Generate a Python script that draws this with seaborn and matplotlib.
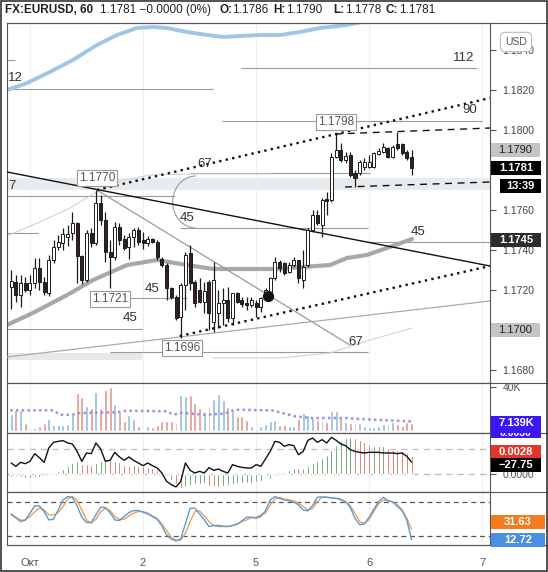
import numpy as np
import pandas as pd
import matplotlib
matplotlib.use("Agg")
import matplotlib.pyplot as plt
import seaborn as sns
from matplotlib.patches import Rectangle, Arc
from matplotlib.lines import Line2D
from matplotlib.transforms import Bbox, TransformedBbox

# hourly bars, bar 0 = 1 Oct 00:00
bars = list(range(-4, 82))
opens = [1.17215, 1.17240, 1.17175, 1.17235, 1.17200, 1.17235, 1.17310, 1.17240, 1.17185, 1.17350,
         1.17415, 1.17435, 1.17465, 1.17485, 1.17535, 1.17370, 1.17250, 1.17485, 1.17435, 1.17635,
         1.17550, 1.17390, 1.17365, 1.17515, 1.17455, 1.17415, 1.17465, 1.17500, 1.17450, 1.17435,
         1.17455, 1.17440, 1.17355, 1.17325, 1.17210, 1.17165, 1.17065, 1.17225, 1.17385, 1.17240,
         1.17200, 1.17140, 1.17240, 1.17040, 1.17085, 1.17135, 1.17150, 1.17060, 1.17185, 1.17150,
         1.17135, 1.17125, 1.17135, 1.17115, 1.17160, 1.17190, 1.17260, 1.17340, 1.17335, 1.17290,
         1.17325, 1.17350, 1.17250, 1.17325, 1.17500, 1.17575, 1.17525, 1.17655, 1.17650, 1.17865,
         1.17900, 1.17850, 1.17875, 1.17785, 1.17785, 1.17815, 1.17815, 1.17815, 1.17880, 1.17890,
         1.17910, 1.17865, 1.17930, 1.17930, 1.17890, 1.17865]
highs = [1.17300, 1.17275, 1.17275, 1.17265, 1.17275, 1.17360, 1.17360, 1.17265, 1.17375, 1.17450,
         1.17475, 1.17510, 1.17525, 1.17590, 1.17540, 1.17375, 1.17500, 1.17510, 1.17700, 1.17675,
         1.17590, 1.17450, 1.17540, 1.17535, 1.17475, 1.17485, 1.17510, 1.17515, 1.17490, 1.17470,
         1.17460, 1.17450, 1.17365, 1.17335, 1.17215, 1.17175, 1.17235, 1.17390, 1.17425, 1.17250,
         1.17260, 1.17240, 1.17250, 1.17340, 1.17200, 1.17210, 1.17215, 1.17185, 1.17190, 1.17165,
         1.17165, 1.17165, 1.17150, 1.17165, 1.17210, 1.17265, 1.17365, 1.17350, 1.17340, 1.17340,
         1.17365, 1.17350, 1.17400, 1.17510, 1.17600, 1.17600, 1.17660, 1.17690, 1.17885, 1.17980,
         1.17935, 1.17890, 1.17890, 1.17800, 1.17850, 1.17860, 1.17875, 1.17890, 1.17910, 1.17935,
         1.17915, 1.17925, 1.17990, 1.17935, 1.17900, 1.17900]
lows = [1.17105, 1.17140, 1.17115, 1.17190, 1.17175, 1.17210, 1.17200, 1.17175, 1.17170, 1.17335,
        1.17400, 1.17400, 1.17420, 1.17450, 1.17235, 1.17230, 1.17240, 1.17415, 1.17425, 1.17525,
        1.17340, 1.17210, 1.17350, 1.17425, 1.17400, 1.17355, 1.17415, 1.17425, 1.17405, 1.17420,
        1.17435, 1.17350, 1.17315, 1.17150, 1.17155, 1.17050, 1.16960, 1.17100, 1.17200, 1.17115,
        1.17135, 1.17085, 1.17000, 1.16990, 1.17010, 1.17025, 1.17040, 1.17025, 1.17135, 1.17115,
        1.17100, 1.17115, 1.17065, 1.17090, 1.17150, 1.17175, 1.17250, 1.17290, 1.17275, 1.17285,
        1.17315, 1.17235, 1.17210, 1.17315, 1.17490, 1.17525, 1.17465, 1.17575, 1.17640, 1.17860,
        1.17840, 1.17835, 1.17765, 1.17715, 1.17775, 1.17800, 1.17810, 1.17810, 1.17875, 1.17885,
        1.17860, 1.17860, 1.17900, 1.17875, 1.17850, 1.17775]
closes = [1.17245, 1.17175, 1.17235, 1.17200, 1.17235, 1.17310, 1.17240, 1.17190, 1.17350, 1.17415,
          1.17440, 1.17480, 1.17480, 1.17535, 1.17370, 1.17250, 1.17485, 1.17435, 1.17635, 1.17550,
          1.17390, 1.17365, 1.17515, 1.17450, 1.17410, 1.17465, 1.17500, 1.17440, 1.17435, 1.17455,
          1.17440, 1.17365, 1.17325, 1.17210, 1.17165, 1.17060, 1.17225, 1.17375, 1.17235, 1.17135,
          1.17140, 1.17195, 1.17085, 1.17250, 1.17135, 1.17150, 1.17060, 1.17185, 1.17140, 1.17130,
          1.17125, 1.17150, 1.17115, 1.17160, 1.17200, 1.17260, 1.17340, 1.17310, 1.17285, 1.17325,
          1.17350, 1.17260, 1.17315, 1.17500, 1.17575, 1.17535, 1.17650, 1.17645, 1.17865, 1.17900,
          1.17850, 1.17870, 1.17775, 1.17760, 1.17840, 1.17840, 1.17840, 1.17885, 1.17895, 1.17915,
          1.17865, 1.17915, 1.17910, 1.17885, 1.17860, 1.17810]

# volume in thousands
volumes = [15.6, 18.6, 18.6, 7.0, 2.4, 2.4, 4.6, 7.0, 10.7, 5.5,
           5.5, 5.5, 6.4, 15.6, 34.5, 30.8, 22.9, 20.7, 35.1, 20.7,
           36.9, 40.0, 24.7, 16.8, 8.5, 14.6, 10.7, 4.0, 0.9, 4.6,
           3.4, 5.5, 8.5, 8.5, 8.5, 7.0, 32.9, 31.4, 32.9, 25.3,
           20.7, 16.8, 22.9, 29.0, 33.9, 28.4, 21.7, 17.7, 13.1, 13.1,
           10.1, 4.6, 1.5, 4.0, 6.4, 8.5, 9.5, 5.5, 5.5, 4.6,
           4.6, 10.7, 16.2, 14.6, 11.6, 10.1, 10.1, 7.6, 17.7, 17.7,
           11.6, 7.6, 7.0, 7.0, 7.0, 4.0, 3.4, 3.4, 4.6, 6.4,
           6.4, 7.6, 6.4, 4.6, 7.6, 7.1]
vol_ma_i = [-4.2, 4.9, 6.4, 8.9, 10.6, 18.4, 20.5, 29.0, 30.4, 32.2,
            37.2, 41.4, 43.5, 51.3, 54.1, 56.3, 59.8, 66.9, 72.5, 81.0]
vol_ma_v = [18.6, 18.6, 14.6, 14.6, 16.2, 16.8, 18.3, 17.7, 14.6, 16.2,
            14.6, 15.6, 19.2, 18.6, 15.6, 13.1, 11.6, 11.6, 10.1, 8.5]

macd_hist = [-0.00036, -0.00034, -0.00042, -0.00055, -0.00052, -0.00047, -0.00042, -0.00034, -0.00021, -0.00013,
             0.00034, 0.00059, 0.00102, 0.00136, 0.00157, 0.00123, 0.00123, 0.00114, 0.00136, 0.00157,
             0.00170, 0.00168, 0.00160, 0.00144, 0.00114, 0.00102, 0.00110, 0.00102, 0.00093, 0.00085,
             0.00072, 0.00042, 0.00017, -0.00034, -0.00076, -0.00127, -0.00182, -0.00170, -0.00140, -0.00131,
             -0.00128, -0.00119, -0.00153, -0.00170, -0.00165, -0.00158, -0.00140, -0.00125, -0.00120, -0.00118,
             -0.00116, -0.00114, -0.00110, -0.00098, -0.00076, -0.00068, -0.00034, -0.00017, 0.00017, 0.00051,
             0.00068, 0.00072, 0.00070, 0.00093, 0.00136, 0.00157, 0.00199, 0.00242, 0.00305, 0.00369,
             0.00411, 0.00454, 0.00466, 0.00454, 0.00424, 0.00399, 0.00382, 0.00356, 0.00356, 0.00347,
             0.00326, 0.00305, 0.00305, 0.00284, 0.00263, 0.00229]
hist_colors = list("GGRRGGGGGG" "GGGGGRRRGG" "GRRRRRGRRR" "RRRRRRRGGG" "GGRRGGGGGG"
                   "GGGGGGGGGG" "GGRGGGGGGG" "GGGRRRRGRG" "RRRRRR")
osc_line = [-30.2, -38.6, -28.6, -31.9, -26.1, -6.9, -16.9, -28.6, 7.3, 21.4,
            23.9, 25.6, 19.8, 17.3, -1.1, -26.1, -5.2, -6.9, 19.8, 4.8,
            -26.1, -23.6, -3.6, -15.2, -23.6, -15.2, -23.6, -30.2, -36.9, -30.2,
            -36.9, -42.7, -55.2, -76.1, -84.4, -90.2, -76.1, -30.2, -48.6, -55.2,
            -51.1, -55.2, -41.9, -48.6, -45.2, -51.1, -55.2, -34.4, -38.6, -41.1,
            -42.7, -42.7, -34.4, -38.6, -20.2, -1.1, 23.9, 21.4, 11.4, 15.6,
            13.1, -9.4, -1.1, 26.4, 32.2, 21.4, 28.1, 19.8, 33.9, 26.4,
            17.3, 13.1, 3.1, -1.1, -3.6, -5.2, -3.6, -3.6, -3.6, -5.2,
            -5.2, -5.2, -6.9, -5.2, -13.6, -27.75]

stoch_k = [59.1, 51.9, 45.4, 47.7, 60.3, 73.5, 73.5, 63.3, 48.3, 49.5,
           66.3, 84.2, 90.2, 89.0, 73.5, 53.1, 43.6, 43.6, 57.3, 71.1,
           70.5, 61.5, 48.3, 47.1, 54.3, 61.5, 65.1, 65.1, 62.1, 59.1,
           54.3, 49.5, 37.6, 21.4, 13.7, 10.7, 14.3, 41.2, 69.3, 69.3,
           59.1, 48.3, 36.4, 38.2, 38.2, 37.0, 36.4, 38.2, 40.6, 46.5,
           53.1, 53.1, 51.3, 54.3, 65.1, 84.2, 90.2, 86.6, 84.2, 83.0,
           80.0, 75.3, 66.3, 64.5, 74.1, 89.0, 89.6, 89.0, 87.8, 87.2,
           85.4, 81.2, 70.5, 51.3, 39.4, 41.2, 53.1, 67.5, 81.2, 89.0,
           83.0, 80.6, 72.3, 65.1, 48.3, 12.72]
stoch_d = [57.3, 53.1, 47.7, 48.3, 54.3, 62.7, 69.9, 66.3, 57.3, 57.3,
           61.5, 72.3, 85.4, 90.2, 83.0, 66.3, 48.3, 42.4, 49.5, 62.7,
           69.3, 65.1, 54.3, 49.5, 49.5, 55.5, 60.3, 63.3, 63.3, 60.3,
           55.5, 50.7, 41.2, 29.2, 17.2, 11.3, 11.9, 24.4, 45.4, 63.3,
           64.5, 55.5, 45.4, 38.2, 36.4, 36.4, 36.4, 38.2, 41.2, 45.4,
           48.3, 52.5, 53.1, 57.3, 60.3, 75.3, 86.0, 89.0, 85.4, 84.2,
           82.4, 78.2, 72.3, 66.3, 68.7, 81.2, 89.0, 89.0, 87.8, 86.6,
           84.2, 80.6, 73.5, 60.3, 45.4, 41.2, 49.5, 63.3, 77.0, 84.2,
           83.0, 80.6, 75.9, 66.3, 51.3, 31.63]

# moving averages drawn on the price panel
blue_ma_i = [-4.9, -0.6, 4.2, 9.1, 14.2, 18.5, 22.7, 26.1, 29.1, 33.3, 37.6, 41.0, 44.6, 48.8, 53.1, 57.3, 61.6, 67.3, 70.5]
blue_ma_p = [1.18200, 1.18235, 1.18290, 1.18350, 1.18425, 1.18475, 1.18510, 1.18515, 1.18510, 1.18490,
             1.18475, 1.18465, 1.18470, 1.18475, 1.18475, 1.18490, 1.18510, 1.18525, 1.18540]
gray_ma_i = [-4.9, 0.6, 7.9, 13.4, 20.6, 27.0, 33.3, 38.9, 47.3, 52.4, 58.0, 63.7, 67.3, 71.5, 76.4, 81.1]
gray_ma_p = [1.17025, 1.17085, 1.17175, 1.17250, 1.17325, 1.17350, 1.17325, 1.17305, 1.17305, 1.17305,
             1.17315, 1.17325, 1.17360, 1.17375, 1.17415, 1.17455]
thin_ma_i = [-4.9, 2.1, 8.5, 13.8, 19.1, 25.5, 34.0, 51.0]
thin_ma_p = [1.17470, 1.17540, 1.17610, 1.17685, 1.17745, 1.17775, 1.17780, 1.17780]
low_curve_i = [38.9, 53.1, 63.7, 71.5, 81.1]
low_curve_p = [1.16860, 1.16860, 1.16885, 1.16945, 1.17010]

# drawings
trend_black = ([-4.88, 97.66], [1.17790, 1.17320])
trend_gray = ([14.2, 67.9], [1.17700, 1.16925])
trend_low = ([-4.88, 97.66], [1.16865, 1.17145])
chan_upper = ([14.2, 97.66], [1.17700, 1.18160])
chan_lower = ([31.8, 97.66], [1.16970, 1.17320])
dash_upper = ([64.8, 97.66], [1.17980, 1.18010])
dash_lower = ([66.9, 97.66], [1.17715, 1.17740])

hseg_start = [-4.88, 44.8, 40.8, -4.88, 34.0, 31.8, -4.88, 21.2, -4.88, 17.0, 71.8, -4.88]
hseg_end = [38.9, 94.9, 96.0, 30.8, 72.2, 71.8, 1.7, 33.3, 23.8, 71.8, 97.66, -3.2]
hseg_price = [1.18205, 1.18310, 1.18045, 1.17670, 1.17785, 1.17510, 1.17485, 1.17160, 1.17005, 1.16890, 1.17440, 1.18350]

level_txt = ["12", "112", "90", "7", "67", "45", "45", "45", "67", "45"]
level_i = [-4.6, 94.3, 93.4, -4.6, 37.2, 33.3, 25.9, 21.2, 69.2, 82.4]
level_p = [1.18260, 1.18360, 1.18100, 1.17720, 1.17830, 1.17560, 1.17205, 1.17060, 1.16940, 1.17490]
level_ha = ["left", "right", "center", "left", "center", "center", "center", "center", "center", "center"]

callout_txt = ["1.1770", "1.1798", "1.1721", "1.1696"]
callout_i = [14.2, 65.0, 17.0, 32.3]
callout_p = [1.17760, 1.18040, 1.17155, 1.16910]

marker_pt = (50.5, 1.1717)
price_ticks = [1.168, 1.170, 1.172, 1.174, 1.176, 1.178, 1.180, 1.182, 1.184]
hidden_ticks = [1.170, 1.178]   # covered by the price tags on the axis
day_ticks = [0, 24, 48, 72, 96]
day_labels = ["Окт", "2", "5", "6", "7"]

W, H = 548, 572


def px_box(x0, y0, x1, y1):
    return [x0 / W, 1 - y1 / H, (x1 - x0) / W, (y1 - y0) / H]


sns.set_theme(style="white")
plt.rcParams["font.family"] = ["Liberation Sans", "DejaVu Sans"]

df = pd.DataFrame({"bar": bars, "open": opens, "high": highs, "low": lows, "close": closes,
                   "vol": volumes, "hist": macd_hist, "osc": osc_line, "k": stoch_k, "d": stoch_d})
df["up"] = df["close"] >= df["open"]

fig = plt.figure(figsize=(W / 100, H / 100), dpi=100)
ax = fig.add_axes(px_box(7, 23, 490, 383))
axv = fig.add_axes(px_box(7, 383, 490, 433), sharex=ax)
axm = fig.add_axes(px_box(7, 433, 490, 492), sharex=ax)
axs = fig.add_axes(px_box(7, 492, 490, 545), sharex=ax)
axb = axm.twinx()

for a in (ax, axv, axm, axs):
    a.set_facecolor("white")
    for s in a.spines.values():
        s.set_color("#555555")
        s.set_linewidth(0.8)
    for xt in day_ticks:
        a.axvline(xt, color="#efefef", lw=0.8, zorder=0)
    a.tick_params(axis="x", length=0, labelbottom=False)
    a.set_xlim(-4.88, 97.66)

# ---- price panel ----
ax.set_ylim(1.16735, 1.18535)
ax.axhspan(1.1770, 1.1776, color="#e9ecef", zorder=0.5, lw=0)
ax.fill_between([-4.88, 23.8], 1.16850, 1.16885, color="#e6e9ec", zorder=0.5, lw=0)
ax.hlines(hseg_price, hseg_start, hseg_end, color="#9a9a9a", lw=0.8, zorder=1)
ax.add_patch(Arc((35.2, 1.1764), 9.8, 0.0026, theta1=100, theta2=250, color="#9a9a9a", lw=0.8, zorder=1))

sns.lineplot(x=thin_ma_i, y=thin_ma_p, ax=ax, color="#d2d2d2", lw=0.8, sort=False, zorder=1.5)
sns.lineplot(x=low_curve_i, y=low_curve_p, ax=ax, color="#d2d2d2", lw=0.8, sort=False, zorder=1.5)
sns.lineplot(x=blue_ma_i, y=blue_ma_p, ax=ax, color="#9fc5e8", lw=2.8, sort=False, zorder=2)
sns.lineplot(x=gray_ma_i, y=gray_ma_p, ax=ax, color="#a8a8a8", lw=3.0, sort=False, zorder=2)

ax.plot(*trend_black, color="#111111", lw=1.0, zorder=3)
ax.plot(*trend_gray, color="#9a9a9a", lw=0.9, zorder=3)
ax.plot(*trend_low, color="#aaaaaa", lw=0.9, zorder=3)

ax.vlines(df["bar"], df["low"], df["high"], color="#1b1b1b", lw=0.9, zorder=4)
body_lo = df[["open", "close"]].min(axis=1)
body_h = (df["close"] - df["open"]).abs().clip(lower=0.00004)
ax.bar(df["bar"], body_h, bottom=body_lo, width=0.64,
       color=np.where(df["up"], "white", "#35211b"), edgecolor="#1b1b1b", linewidth=0.7, zorder=5)

for line in (chan_upper, chan_lower):
    ax.plot(*line, color="#111111", lw=1.7, linestyle=(0, (1, 1.8)), zorder=6)
for line in (dash_upper, dash_lower):
    ax.plot(*line, color="#111111", lw=1.0, linestyle=(0, (5, 4)), zorder=6)

ax.scatter([marker_pt[0]], [marker_pt[1]], s=50, color="#111111", zorder=7)

for t, xi, p, ha in zip(level_txt, level_i, level_p, level_ha):
    ax.text(xi, p, t, ha=ha, va="center", fontsize=9.5, color="#333333", zorder=8)
for t, xi, p in zip(callout_txt, callout_i, callout_p):
    ax.text(xi, p, t, ha="center", va="center", fontsize=8.5, color="#555555", zorder=8,
            bbox=dict(boxstyle="square,pad=0.18", fc="white", ec="#999999", lw=0.8))

ax.yaxis.tick_right()
ax.set_yticks(price_ticks)
ax.set_yticklabels(["" if p in hidden_ticks else f"{p:.4f}" for p in price_ticks])
ax.tick_params(axis="y", length=4, width=0.8, color="#555555", labelsize=7.5, labelcolor="#444444", pad=5)

# ---- volume ----
axv.set_ylim(-2.1, 43.6)
axv.bar(df["bar"], df["vol"], width=0.62, color=np.where(df["up"], "#8fbbe3", "#e6968d"), zorder=2)
sns.lineplot(x=vol_ma_i, y=vol_ma_v, ax=axv, color="#9d91e0", lw=1.8, linestyle=(0, (1, 1.3)), sort=False, zorder=3)
axv.yaxis.tick_right()
axv.set_yticks([40])
axv.set_yticklabels(["40K"])
axv.tick_params(axis="y", length=4, width=0.8, color="#555555", labelsize=7.5, labelcolor="#555555", pad=5)

# ---- macd-like panel ----
axm.set_ylim(-0.00233, 0.00518)
axm.axhline(0.0, color="#bbbbbb", lw=0.9, linestyle=(0, (5, 4)), zorder=1)
axm.axhline(0.0031, color="#bbbbbb", lw=0.9, linestyle=(0, (5, 4)), zorder=1)
axm.bar(df["bar"], df["hist"], width=0.42,
        color=["#1f7a33" if c == "G" else "#d8322b" for c in hist_colors], zorder=2)
axm.yaxis.tick_right()
axm.set_yticks([0.0])
axm.set_yticklabels(["0.0000"])
axm.tick_params(axis="y", length=4, width=0.8, color="#555555", labelsize=7.5, labelcolor="#555555", pad=5)
axb.set_ylim(-102.75, 44.75)
sns.lineplot(x=df["bar"], y=df["osc"], ax=axb, color="#111111", lw=1.0, sort=False, zorder=3)
axb.set_yticks([])
for s in axb.spines.values():
    s.set_visible(False)

# ---- stochastic ----
axs.set_ylim(3.2, 98.4)
for lvl in (80, 20):
    axs.axhline(lvl, color="#555555", lw=0.9, linestyle=(0, (4, 3)), zorder=1)
sns.lineplot(x=df["bar"], y=df["d"], ax=axs, color="#f0a055", lw=1.0, sort=False, zorder=2)
sns.lineplot(x=df["bar"], y=df["k"], ax=axs, color="#5b9bd5", lw=1.0, sort=False, zorder=3)
axs.set_yticks([])
axs.set_xticks(day_ticks)
axs.set_xticklabels(day_labels)
axs.tick_params(axis="x", length=4, width=0.8, color="#555555", labelbottom=True,
                labelsize=8, labelcolor="#555555", pad=5)

for a in (ax, axv, axm, axs, axb):
    a.set_xlabel("")
    a.set_ylabel("")

# ---- frame lines ----
for y in (23, 383, 433, 492, 545):
    fig.add_artist(Line2D([7 / W, 1], [1 - y / H] * 2, transform=fig.transFigure, color="#555555", lw=0.8, zorder=15))
fig.add_artist(Rectangle((0.001, 0.001), 0.998, 0.998, transform=fig.transFigure,
                         fill=False, ec="#333333", lw=1.2, zorder=30))


def y_of(a, v):
    return H - a.transData.transform((0, v))[1]


def tag(y_px, text, bg, fg="white", x0=491, x1=541, h=14, bold=True, z=20, clip=None, fs=8):
    fig.add_artist(Rectangle((x0 / W, 1 - (y_px + h / 2) / H), (x1 - x0) / W, h / H,
                             transform=fig.transFigure, fc=bg, ec="none", zorder=z))
    t = fig.text((x0 + x1) / 2 / W, 1 - y_px / H, text, ha="center", va="center", color=fg,
                 fontsize=fs, fontweight="bold" if bold else "normal", zorder=z + 0.5)
    if clip is not None:
        t.set_clip_box(TransformedBbox(Bbox.from_extents(x0 / W, 1 - clip[1] / H, x1 / W, 1 - clip[0] / H),
                                       fig.transFigure))
        t.set_clip_on(True)


last_close = closes[-1]
tag(y_of(ax, 1.1790), "1.1790", "#c4c4c4", "#222222", x1=540, bold=False)
tag(y_of(ax, last_close), f"{last_close:.4f}", "#000000")
tag(y_of(ax, last_close) + 17.5, "13:39", "#000000", x0=500)
tag(y_of(ax, 1.1745), "1.1745", "#2c2c2c")
tag(y_of(ax, 1.1700), "1.1700", "#c4c4c4", "#222222", x1=540, bold=False)
# macd signal label, its upper half hidden behind the volume tag
tag(433.5, "0.0030", "#3d17f2", h=9, z=18, clip=(433, 438), fs=7.5)
tag(y_of(axv, 7.139), "7.139K", "#3d17f2", z=20)
tag(y_of(axm, 0.0028), "0.0028", "#e5352b")
tag(y_of(axb, -27.75) + 3, "\u221227.75", "#000000")
tag(y_of(axs, 31.63) - 7.5, "31.63", "#f47c20", x1=545)
tag(y_of(axs, 12.72), "12.72", "#4a90e2", x1=545)

fig.text(516 / W, 1 - 42 / H, "USD", ha="center", va="center", fontsize=7.5, color="#555555", zorder=22,
         bbox=dict(boxstyle="round,pad=0.45", fc="white", ec="#bbbbbb", lw=0.8))

title_parts = [("FX:EURUSD, 60", 5, "bold"), ("1.1781 \u22120.0000 (0%)", 100, "normal"),
               ("O:", 219, "bold"), ("1.1786", 232, "normal"), ("H:", 273, "bold"), ("1.1790", 286, "normal"),
               ("L:", 333, "bold"), ("1.1778", 345, "normal"), ("C:", 386, "bold"), ("1.1781", 399, "normal")]
for t, x, wgt in title_parts:
    fig.text(x / W, 1 - 10 / H, t, ha="left", va="center", fontsize=8.5, fontweight=wgt, color="#222222")

fig.savefig("out.png", dpi=100)
